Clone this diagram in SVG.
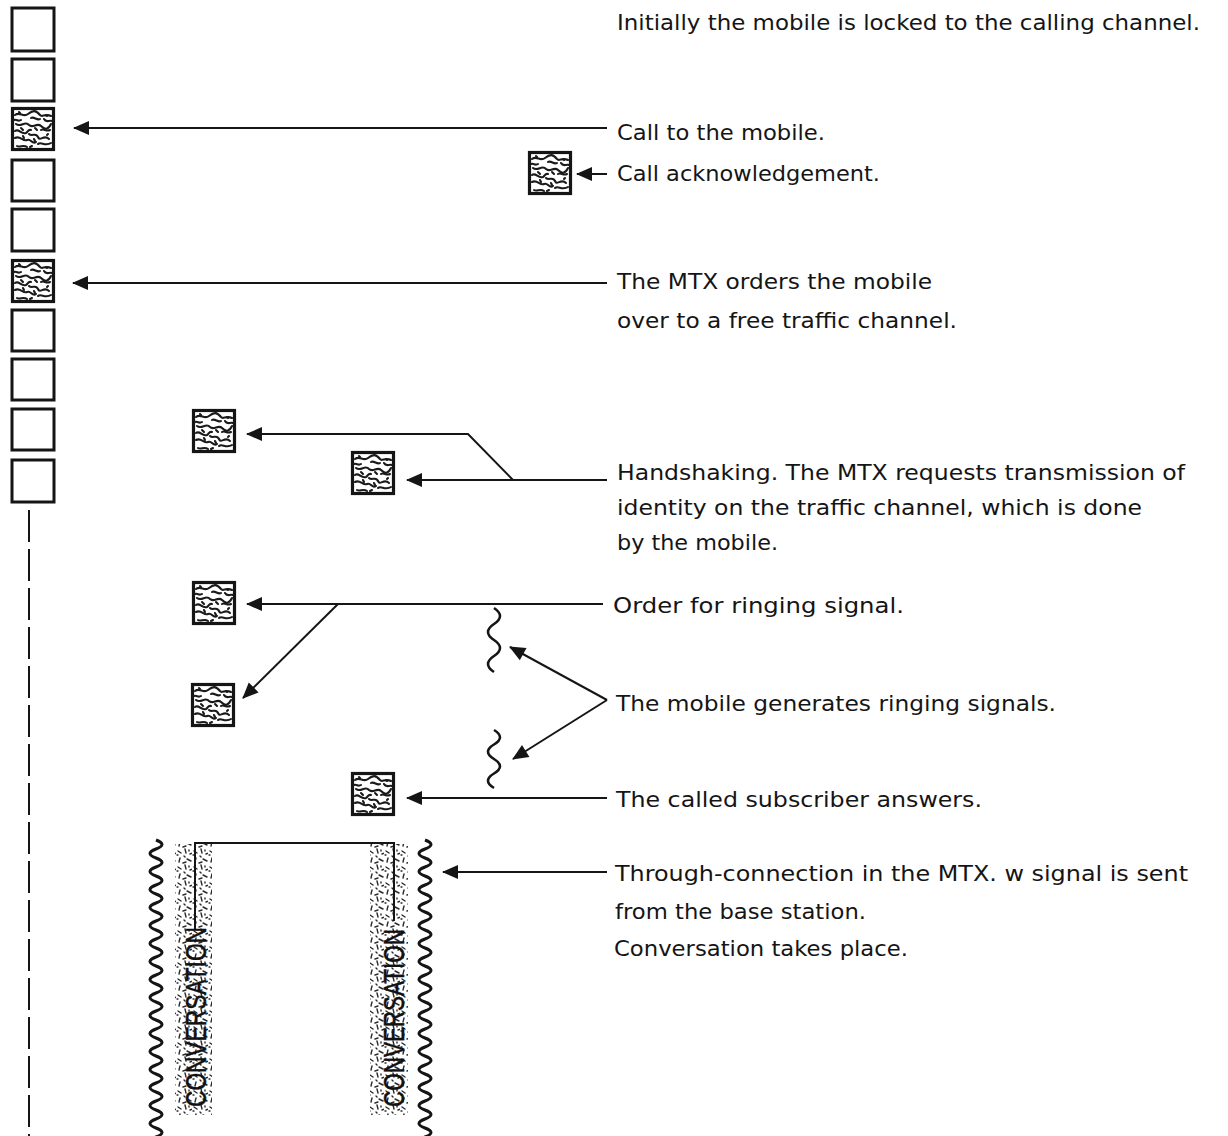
<svg xmlns="http://www.w3.org/2000/svg" xmlns:xlink="http://www.w3.org/1999/xlink" width="1228" height="1136" viewBox="0 0 1228 1136">
<style>
.lbl{font-family:"DejaVu Sans","Liberation Sans",sans-serif;font-size:21px;fill:#151515;}
.conv{font-family:"Liberation Sans",Arial,sans-serif;font-size:30px;fill:#111;stroke:#111;stroke-width:0.5;}
.sq{fill:#fff;stroke:#151515;stroke-width:3;}
.ln{fill:none;stroke:#151515;stroke-width:2;}
.ar{fill:none;stroke:#151515;stroke-width:2;marker-end:url(#ah);}
.wave{fill:none;stroke:#151515;stroke-width:2.6;}
.wave2{fill:none;stroke:#151515;stroke-width:3;}
</style>
<defs>
<marker id="ah" viewBox="-18 -9 20 18" refX="-1" refY="0" markerWidth="20" markerHeight="18" orient="auto" markerUnits="userSpaceOnUse">
<path d="M0,0 L-16,-7 L-16,7 Z" fill="#151515"/>
</marker>
<symbol id="hsq" viewBox="0 0 44 44" width="44" height="44" overflow="visible">
<rect x="1.5" y="1.5" width="41" height="41" fill="#fff" stroke="#151515" stroke-width="3.2"/>
<g fill="none" stroke="#1a1a1a" stroke-width="2.1" stroke-linecap="round" stroke-linejoin="round">
<path d="M4,8 C9,4 12,11 17,7 S25,3 29,8 C31,11 34,6 40,9"/>
<path d="M3,13 C6,12 7,15 10,13"/>
<path d="M5,17 C10,21 14,13 18,18 C22,22 26,15 30,19 S37,23 40,17"/>
<path d="M20,11 C23,9 26,14 29,12"/>
<path d="M33,12 C35,16 38,13 41,14"/>
<path d="M4,24 C8,21 10,28 15,26 C17,25 17,22 20,23"/>
<path d="M18,27 C21,30 25,25 27,30 S33,27 38,32"/>
<path d="M4,31 C9,28 12,35 16,33 S21,38 25,35"/>
<path d="M27,37 C30,34 34,40 40,36"/>
<path d="M6,39 C9,41 12,37 16,40"/>
<path d="M30,23 C33,21 35,25 39,23"/>
<path d="M10,21 L12,23 M24,21 L26,23 M12,29 L13,31 M35,8 L36,9 M19,40 L21,39 M23,32 L24,34 M8,5 L9,6 M36,28 L37,27"/>
</g>
</symbol>
<pattern id="stip" width="16" height="16" patternUnits="userSpaceOnUse">
<g stroke="#2a2a2a" stroke-width="1.4" stroke-linecap="round" fill="none">
<path d="M2,3 l3,2 M9,1 l1,4 M14,6 l3,-1 M4,10 l-1,4 M11,11 l4,2 M7,15 l3,-1 M1,7 l1,0 M13,2 l0,1 M8,8 l1,1"/>
</g>
</pattern>
</defs>
<rect width="1228" height="1136" fill="#fff"/>

<g id="channel-column">
<g id="ch1"><rect class="sq" x="12" y="8" width="42" height="43"/></g>
<g id="ch2"><rect class="sq" x="12" y="59" width="42" height="42"/></g>
<g id="ch3"><use xlink:href="#hsq" href="#hsq" x="11" y="107"/></g>
<g id="ch4"><rect class="sq" x="12" y="160" width="42" height="41"/></g>
<g id="ch5"><rect class="sq" x="12" y="209" width="42" height="42"/></g>
<g id="ch6"><use xlink:href="#hsq" href="#hsq" x="11" y="259"/></g>
<g id="ch7"><rect class="sq" x="12" y="310" width="42" height="41"/></g>
<g id="ch8"><rect class="sq" x="12" y="359" width="42" height="41"/></g>
<g id="ch9"><rect class="sq" x="12" y="409" width="42" height="41"/></g>
<g id="ch10"><rect class="sq" x="12" y="460" width="42" height="42"/></g>
<g id="timeline"><line x1="29" y1="510" x2="29" y2="1136" stroke="#151515" stroke-width="2" stroke-dasharray="32 7"/></g>
</g>

<g id="sig-ack"><use xlink:href="#hsq" href="#hsq" x="528" y="151"/></g>
<g id="sig-hs1"><use xlink:href="#hsq" href="#hsq" x="192" y="409"/></g>
<g id="sig-hs2"><use xlink:href="#hsq" href="#hsq" x="351" y="451"/></g>
<g id="sig-ring1"><use xlink:href="#hsq" href="#hsq" x="192" y="581"/></g>
<g id="sig-ring2"><use xlink:href="#hsq" href="#hsq" x="191" y="683"/></g>
<g id="sig-answer"><use xlink:href="#hsq" href="#hsq" x="351" y="772"/></g>

<g id="ring-tones">
<path class="wave" d="M494,608 q12,8 0,16 t0,16 t0,16 t0,16"/>
<path class="wave" d="M494,730 q12,7.25 0,14.5 t0,14.5 t0,14.5 t0,14.5"/>
</g>

<g id="conversation">
<rect x="175" y="844" width="37" height="271" fill="url(#stip)"/>
<rect x="370" y="844" width="38" height="271" fill="url(#stip)"/>
<path class="ln" d="M195,930 V843 H394 V921" stroke-width="2.6"/>
<text class="conv" transform="translate(206,1107) rotate(-90)" textLength="180" lengthAdjust="spacingAndGlyphs">CONVERSATION</text>
<text class="conv" transform="translate(404,1107) rotate(-90)" textLength="178" lengthAdjust="spacingAndGlyphs">CONVERSATION</text>
<path class="wave2" d="M156,840 q12,4.5 0,9 t0,9 t0,9 t0,9 t0,9 t0,9 t0,9 t0,9 t0,9 t0,9 t0,9 t0,9 t0,9 t0,9 t0,9 t0,9 t0,9 t0,9 t0,9 t0,9 t0,9 t0,9 t0,9 t0,9 t0,9 t0,9 t0,9 t0,9 t0,9 t0,9 t0,9 t0,9 t0,9 t0,9"/>
<path class="wave2" d="M425,840 q12,4.5 0,9 t0,9 t0,9 t0,9 t0,9 t0,9 t0,9 t0,9 t0,9 t0,9 t0,9 t0,9 t0,9 t0,9 t0,9 t0,9 t0,9 t0,9 t0,9 t0,9 t0,9 t0,9 t0,9 t0,9 t0,9 t0,9 t0,9 t0,9 t0,9 t0,9 t0,9 t0,9 t0,9 t0,9"/>
</g>

<g id="connectors">
<path class="ar" d="M607,128 H74"/>
<path class="ar" d="M607,174 H577"/>
<path class="ar" d="M607,283 H73"/>
<path class="ar" d="M513,480 L468,434 H247"/>
<path class="ar" d="M607,480 H407"/>
<path class="ar" d="M603,604 H247"/>
<path class="ar" d="M338,604 L243,698"/>
<path class="ar" d="M607,700 L510,647"/>
<path class="ar" d="M607,700 L513,759"/>
<path class="ar" d="M607,798 H407"/>
<path class="ar" d="M607,872 H443"/>
</g>

<g id="labels">
<text class="lbl" x="617" y="30" textLength="583" lengthAdjust="spacingAndGlyphs">Initially the mobile is locked to the calling channel.</text>
<text class="lbl" x="617" y="140" textLength="208" lengthAdjust="spacingAndGlyphs">Call to the mobile.</text>
<text class="lbl" x="617" y="181" textLength="263" lengthAdjust="spacingAndGlyphs">Call acknowledgement.</text>
<text class="lbl" x="617" y="289" textLength="315" lengthAdjust="spacingAndGlyphs">The MTX orders the mobile</text>
<text class="lbl" x="617" y="328" textLength="340" lengthAdjust="spacingAndGlyphs">over to a free traffic channel.</text>
<text class="lbl" x="617" y="480" textLength="568" lengthAdjust="spacingAndGlyphs">Handshaking. The MTX requests transmission of</text>
<text class="lbl" x="617" y="515" textLength="525" lengthAdjust="spacingAndGlyphs">identity on the traffic channel, which is done</text>
<text class="lbl" x="617" y="550" textLength="161" lengthAdjust="spacingAndGlyphs">by the mobile.</text>
<text class="lbl" x="613" y="613" textLength="291" lengthAdjust="spacingAndGlyphs">Order for ringing signal.</text>
<text class="lbl" x="616" y="711" textLength="440" lengthAdjust="spacingAndGlyphs">The mobile generates ringing signals.</text>
<text class="lbl" x="616" y="807" textLength="366" lengthAdjust="spacingAndGlyphs">The called subscriber answers.</text>
<text class="lbl" x="615" y="881" textLength="573" lengthAdjust="spacingAndGlyphs">Through-connection in the MTX. w signal is sent</text>
<text class="lbl" x="615" y="919" textLength="251" lengthAdjust="spacingAndGlyphs">from the base station.</text>
<text class="lbl" x="614" y="956" textLength="294" lengthAdjust="spacingAndGlyphs">Conversation takes place.</text>
</g>
</svg>
